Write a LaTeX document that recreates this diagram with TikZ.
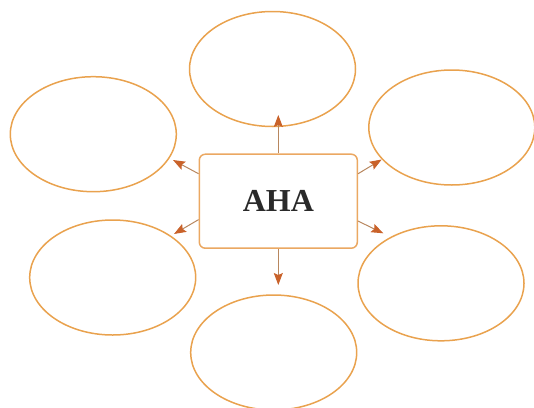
\documentclass[tikz,border=0pt]{standalone}
\usepackage{fontspec}
\setmainfont{Liberation Serif}
\usepackage{tikz}
\usepackage{xcolor}
\usetikzlibrary{shapes.geometric,arrows.meta}
\definecolor{bubbleorange}{HTML}{E9A24E}
\definecolor{hubedge}{HTML}{EBA862}
\definecolor{shaftbrown}{HTML}{B8875F}
\definecolor{headbrown}{HTML}{C9622A}
\definecolor{inkgray}{HTML}{2A2A2A}

\begin{document}
\begin{tikzpicture}[x=1pt, y=-1pt,
    bubble/.style={draw=bubbleorange, line width=1.5pt, ellipse, minimum width=166pt, minimum height=115pt, inner sep=0pt},
    hub/.style={draw=hubedge, line width=1.5pt, rounded corners=6pt, minimum width=158pt, minimum height=94pt, fill=white},
    spoke/.style={draw=shaftbrown, line width=1pt, -{Stealth[length=12pt, width=9pt, inset=2pt, color=headbrown]}}]
    \useasboundingbox (0,0) rectangle (534,407);

    \node[bubble] (top) at (272.5,69) {};
    \node[bubble] (upleft) at (93.3,134.2) {};
    \node[bubble] (upright) at (451.8,127.5) {};
    \node[bubble] (lowleft) at (112.7,277.5) {};
    \node[bubble] (lowright) at (441,283.3) {};
    \node[bubble] (bottom) at (273.7,352.5) {};

    \node[hub] (aha) at (278.3,201.2) {\fontsize{32}{36}\selectfont\bfseries\color{inkgray}AHA};

    \coordinate (tiptop) at (278.3,115);
    \coordinate (tipbottom) at (278.3,285);
    \coordinate (tipupleft) at (173,160);
    \coordinate (tiplowleft) at (174,234);
    \coordinate (tipupright) at (381.7,159.5);
    \coordinate (tiplowright) at (383.3,233.3);

    \draw[spoke] (aha.north) -- (tiptop);
    \draw[spoke] (aha.south) -- (tipbottom);
    \draw[spoke] (aha.161) -- (tipupleft);
    \draw[spoke] (aha.193.5) -- (tiplowleft);
    \draw[spoke] (aha.19) -- (tipupright);
    \draw[spoke] (aha.346.5) -- (tiplowright);
\end{tikzpicture}
\end{document}
